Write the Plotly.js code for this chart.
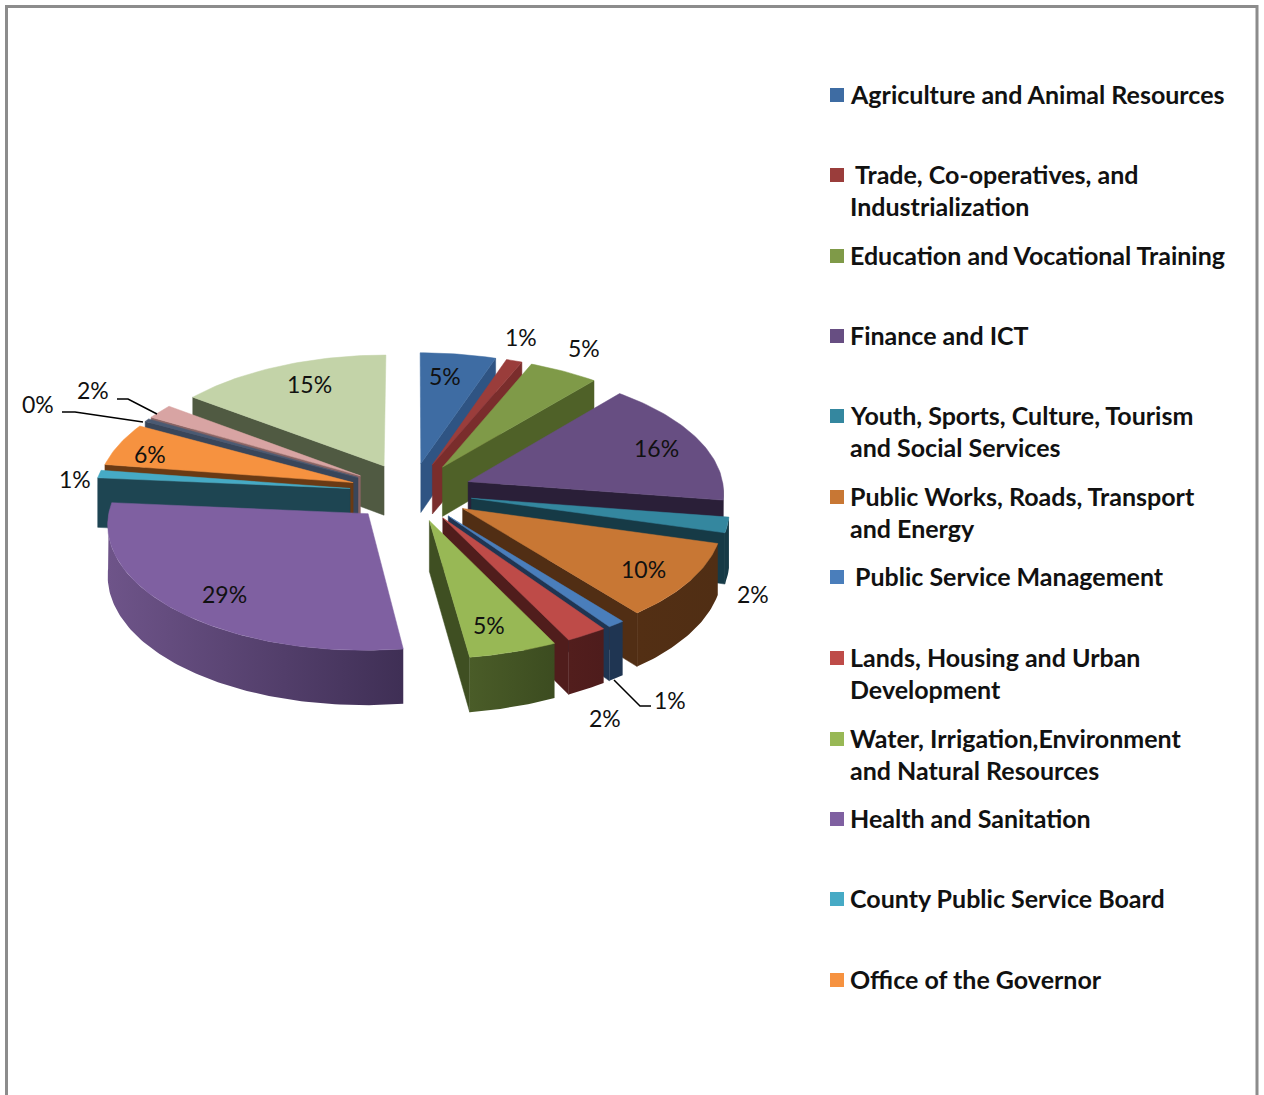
<!DOCTYPE html>
<html><head><meta charset="utf-8">
<script src="https://cdn.plot.ly/plotly-3.0.1.min.js"></script>
<style>html,body{margin:0;padding:0;background:#fff}#chart{width:1264px;height:1095px}</style>
</head><body><div id="chart"></div>
<script>
// ---------- data ----------
var categories = ["Agriculture and Animal Resources","Trade, Co-operatives, and<br>Industrialization","Education and Vocational Training","Finance and ICT","Youth, Sports, Culture, Tourism<br>and Social Services","Public Works, Roads, Transport<br>and Energy","Public Service Management","Lands, Housing and Urban<br>Development","Water, Irrigation,Environment<br>and Natural Resources","Health and Sanitation","County Public Service Board","Office of the Governor","","",""];
var shares = [5.2,1.1,4.8,16.3,2,9.9,1,2.4,5.1,28.6,1,5.6,0.4,1.9,14.7];
// ---------- styles ----------
var topColors   = ["#3E6CA3","#9A3D3B","#7F9A48","#674E82","#34879F","#C87734","#4A7EBB","#BE4B48","#98B855","#7F60A1","#46AAC5","#F69240","#4A5A73","#D8A4A3","#C3D3A8"];
var cutColors   = ["#2F5483","#7A2D2C","#4F6128","#2A1F38","#163A46","#512E14","#1F3552","#501D1C","#3F4F22","#3F2F55","#1E4552","#6A3A14","#39465A","#8A6464","#505A42"];
var wallLeft    = ["#2F5483","#7A2D2C","#4F6128","#2A1F38","#163A46","#532F14","#1F3552","#521E1D","#4A5C28","#6E5489","#1E4552","#6A3A14","#39465A","#8A6464","#505A42"];
var wallRight   = ["#2F5483","#7A2D2C","#4F6128","#2A1F38","#163A46","#502E14","#1F3552","#4E1C1C","#3C4C20","#3F2F55","#1E4552","#6A3A14","#39465A","#8A6464","#505A42"];
var legendRows  = [95,175,256,336,416,497,577,658,739,819,899,980];
var legendIndent= [0,5,0,0,0,0,5,0,0,0,0,0];
var labelX = [445,521,584,656,753,643,670,605,489,224,75,150,38,93,309];
var labelY = [376,337,348,448,594,569,700,718,625,594,479,454,404,390,384];
var leaders = [
  {x:[117,128,157], y:[399,399,414]},
  {x:[62,75,143],   y:[412,412,422]},
  {x:[614,640,651], y:[680,706,706]}
];
// ---------- pie geometry: a tilted, exploded disc seen in perspective ----------
var cx=411, cy=492, rx=256, ry=123, persp=0.075, explode=0.24, depth=50;
function project(X,Y,z){var s=1/(1+persp*Y);return [cx+rx*X*s, cy-ry*Y*s+depth*z*s];}
var total=shares.reduce(function(a,b){return a+b},0), D2R=Math.PI/180, acc=0;
var slices=shares.map(function(v,i){
  var s=acc/total*360; acc+=v; var e=acc/total*360, m=(s+e)/2;
  return {i:i,s:s,e:e,m:m,ox:explode*Math.sin(m*D2R),oy:explode*Math.cos(m*D2R)};
});
function rim(sl,a,z){return project(sl.ox+Math.sin(a*D2R),sl.oy+Math.cos(a*D2R),z);}
function apex(sl,z){return project(sl.ox,sl.oy,z);}
function poly(pts,color,name,gradient){
  var t={type:'scatter',mode:'lines',x:pts.map(function(p){return p[0]}).concat(pts[0][0]),y:pts.map(function(p){return p[1]}).concat(pts[0][1]),
    fill:'toself',line:{width:0.5,color:color},hoverinfo:'skip',name:name,showlegend:false};
  if(gradient){t.fillgradient={type:'horizontal',colorscale:[[0,gradient[0]],[1,gradient[1]]]};t.line.width=0;}
  else t.fillcolor=color;
  return t;
}
var traces=[];
slices.slice().sort(function(a,b){return Math.cos(b.m*D2R)-Math.cos(a.m*D2R)}).forEach(function(sl){
  var i=sl.i,name=categories[i]||('Slice '+(i+1));
  if(Math.sin(sl.s*D2R)<-1e-6) traces.push(poly([apex(sl,0),rim(sl,sl.s,0),rim(sl,sl.s,1),apex(sl,1)],cutColors[i],name));
  if(Math.sin(sl.e*D2R)>1e-6) traces.push(poly([apex(sl,0),rim(sl,sl.e,0),rim(sl,sl.e,1),apex(sl,1)],cutColors[i],name));
  var a0=Math.max(sl.s,90),a1=Math.min(sl.e,270);
  if(a1>a0){
    var up=[],lo=[];
    for(var a=a0;a<a1;a+=1){up.push(rim(sl,a,0));lo.unshift(rim(sl,a,1));}
    up.push(rim(sl,a1,0));lo.unshift(rim(sl,a1,1));
    traces.push(poly(up.concat(lo),cutColors[i],name,[wallLeft[i],wallRight[i]]));
  }
  var face=[apex(sl,0)];
  for(var b=sl.s;b<sl.e;b+=1) face.push(rim(sl,b,0));
  face.push(rim(sl,sl.e,0));
  traces.push(poly(face,topColors[i],name));
});
leaders.forEach(function(l){
  traces.push({type:'scatter',mode:'lines',x:l.x,y:l.y,line:{color:'#000',width:1.5},hoverinfo:'skip',showlegend:false});
});
var legendNames=categories.filter(function(c){return c});
traces.push({type:'scatter',mode:'markers',x:legendRows.map(function(){return 837}),y:legendRows,
  marker:{symbol:'square',size:14,color:topColors.slice(0,12),line:{width:0}},hoverinfo:'skip',showlegend:false});

var annotations=shares.map(function(v,i){
  return {x:labelX[i],y:labelY[i],xref:'x',yref:'y',showarrow:false,xanchor:'center',yanchor:'middle',
    text:Math.round(v/total*100)+'%',font:{family:'Lato, sans-serif',size:23,color:'#111'}};
});
legendNames.forEach(function(n,i){
  n.split('<br>').forEach(function(line,j){
    annotations.push({x:848+(j===0?legendIndent[i]:0),y:legendRows[i]-1+j*32,xref:'x',yref:'y',showarrow:false,xanchor:'left',yanchor:'middle',
      text:line,font:{family:'Lato, sans-serif',size:25,color:'#111',weight:700}});
  });
});
var layout={width:1264,height:1095,margin:{l:0,r:0,t:0,b:0,pad:0},paper_bgcolor:'#fff',plot_bgcolor:'#fff',showlegend:false,
  xaxis:{range:[0,1264],visible:false,fixedrange:true},
  yaxis:{range:[1095,0],visible:false,fixedrange:true},
  annotations:annotations,
  shapes:[{type:'path',xref:'x',yref:'y',path:'M6.5,1095 L6.5,6.5 L1257,6.5 L1257,1095',line:{color:'#8c8c8c',width:3},layer:'below'}]};
Plotly.newPlot('chart',traces,layout,{displayModeBar:false,staticPlot:true});
</script></body></html>
